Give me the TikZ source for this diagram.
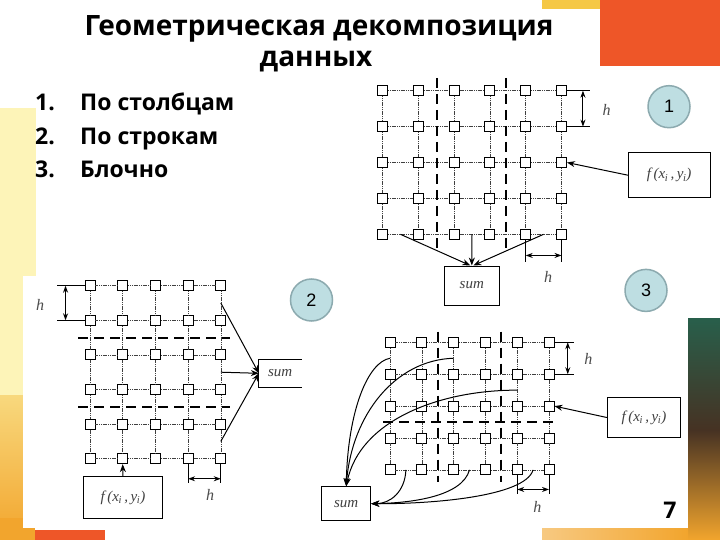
\documentclass[tikz,border=0pt]{standalone}
\usepackage{fontspec}
\setmainfont{Open Sans}
\newfontfamily\arialf{Liberation Sans}
\newfontfamily\timesf{Liberation Serif}
\usetikzlibrary{arrows.meta,calc}
\definecolor{slorange}{RGB}{238,86,40}
\definecolor{slyellow}{RGB}{245,200,70}
\definecolor{paley}{RGB}{253,244,184}
\definecolor{cfill}{RGB}{190,222,226}
\definecolor{cborder}{RGB}{140,170,175}
\definecolor{dgreen}{RGB}{40,95,75}
\definecolor{dbrown}{RGB}{70,50,35}
\definecolor{gold}{RGB}{242,165,45}
\newcommand\mkgrid[7]{%
  \foreach \c in {1,...,#2} \foreach \r in {1,...,#3}
    \node[sq] (#1-\c-\r) at ({#4+#5*(\c-1)},{#6+#7*(\r-1)}) {};}
\newcommand\mkgridlines[3]{%
  \foreach \c in {1,...,#2} \foreach \r in {1,...,#3} {%
    \pgfmathtruncatemacro\cn{\c+1}\pgfmathtruncatemacro\rn{\r+1}%
    \ifnum\c<#2 \draw[gl] (#1-\c-\r) -- (#1-\cn-\r);\fi
    \ifnum\r<#3 \draw[gl] (#1-\c-\r) -- (#1-\c-\rn);\fi}}
\newcommand\fxy{f\,(x\textsubscript{\kern-0.5pt i}\,,\,y\textsubscript{\kern-0.5pt i})}
\begin{document}
\begin{tikzpicture}[x=1pt,y=-1pt,
  sq/.style={draw, fill=white, minimum size=10pt, inner sep=0pt, line width=0.9pt},
  gl/.style={line width=0.6pt, black!75, dash pattern=on 1.2pt off 0.6pt},
  dl/.style={line width=1.8pt, dash pattern=on 10pt off 6pt},
  arr/.style={line width=1pt, -{Stealth[length=8pt,width=6pt]}},
  darr/.style={line width=1pt, {Stealth[length=7pt,width=5pt]}-{Stealth[length=7pt,width=5pt]}},
  thinl/.style={line width=0.8pt},
  lbox/.style={draw, line width=1pt, inner sep=0pt, font=\timesf\itshape\fontsize{15}{15}\selectfont, text=black!75},
  hl/.style={font=\timesf\itshape\fontsize{16}{16}\selectfont, text=black!70, inner sep=0pt},
  num/.style={circle, draw=cborder, fill=cfill, line width=1.5pt, minimum size=42pt, inner sep=0pt, font=\arialf\fontsize{18}{18}\selectfont},
  ttl/.style={anchor=base, font=\bfseries\fontsize{28}{28}\selectfont},
  itm/.style={anchor=base west, inner sep=0pt, font=\bfseries\fontsize{23}{23}\selectfont}]
\useasboundingbox (0,0) rectangle (720,540);
% background decorations
\fill[white] (0,0) rectangle (720,540);
\fill[slorange] (600,0) rectangle (720,66);
\fill[slyellow] (542,0) rectangle (600,9);
\fill[paley] (0,108) rectangle (36,400);
\shade[top color=slyellow!70!white, bottom color=gold] (0,395) rectangle (23,540);
\fill[gold] (0,518) rectangle (35,540);
\fill[slorange] (35,530) rectangle (105,540);
\fill[white] (23,276) rectangle (302,528);
\shade[top color=dgreen, bottom color=dbrown] (688,318) rectangle (720,430);
\shade[top color=dbrown, bottom color=gold] (688,430) rectangle (720,540);
\shade[left color=gold!60!white, right color=gold] (542,528) rectangle (688,540);
% title and list
\node[ttl] (title1) at (319,36) {Геометрическая декомпозиция};
\node[ttl] (title2) at (316,66.5) {данных};
\node[itm] (n1) at (35,111) {1.};
\node[itm] (i1) at (80,111) {По столбцам};
\node[itm] (n2) at (35,144.5) {2.};
\node[itm] (i2) at (80,144.5) {По строкам};
\node[itm] (n3) at (35,177.5) {3.};
\node[itm] (i3) at (80,177.5) {Блочно};
\node[font=\bfseries\fontsize{23}{23}\selectfont, inner sep=0pt] (pg) at (670,510) {7};
% ===== diagram 1 =====
\mkgrid{A}{6}{5}{382.5}{35.8}{90.7}{35.9}
\mkgridlines{A}{6}{5}
\draw[dl] (436.7,78) -- (436.7,248);
\draw[dl] (505.7,78) -- (505.7,248);
\draw[thinl] (A-6-1.east) -- ++(22.6,0) coordinate (hA1);
\draw[thinl] (A-6-2.east) -- ++(22.6,0) coordinate (hA2);
\draw[darr] ($(hA1)+(-6.6,0)$) -- ($(hA2)+(-6.6,0)$);
\node[hl] (hAl1) at (606.7,110) {h};
\draw[thinl] (A-5-5.south) -- ++(0,22.4) coordinate (hA3);
\draw[thinl] (A-6-5.south) -- ++(0,22.4) coordinate (hA4);
\draw[darr] ($(hA3)+(0,-6.7)$) -- ($(hA4)+(0,-6.7)$);
\node[hl] (hAl2) at (548,276.7) {h};
\node[lbox, minimum width=81.7pt, minimum height=45pt] (fA) at (669.2,175.2) {\fxy};
\draw[arr] (fA.west) -- (A-6-3.east);
\node[lbox, minimum width=55pt, minimum height=39pt] (sA) at (471.8,285.5) {sum};
\coordinate (a1) at ($(A-1-5)!0.5!(A-2-5)$);
\coordinate (a2) at ($(A-3-5)!0.5!(A-4-5)$);
\coordinate (a3) at ($(A-5-5)!0.5!(A-6-5)$);
\draw[arr] (a1) -- ($(sA.north)+(-1.5,0)$);
\draw[arr] (a2) -- (sA.north);
\draw[arr] (a3) -- ($(sA.north)+(1.5,0)$);
\node[num] (c1) at (669,106.7) {1};
% ===== diagram 2 =====
\mkgrid{B}{5}{6}{90}{32.7}{285.7}{34.6}
\mkgridlines{B}{5}{6}
\draw[dl] (78.3,338.2) -- (230,338.2);
\draw[dl] (78.3,406.8) -- (230,406.8);
\draw[thinl] (B-1-1.west) -- ++(-27.7,0) coordinate (hB1);
\draw[thinl] (B-1-2.west) -- ++(-27.7,0) coordinate (hB2);
\draw[darr] ($(hB1)+(8.7,0)$) -- ($(hB2)+(8.7,0)$);
\node[hl] (hBl1) at (40,305) {h};
\draw[thinl] (B-4-6.south) -- ++(0,19.3) coordinate (hB3);
\draw[thinl] (B-5-6.south) -- ++(0,19.3) coordinate (hB4);
\draw[darr] ($(hB3)+(0,-4.7)$) -- ($(hB4)+(0,-4.7)$);
\node[hl] (hBl2) at (210,495) {h};
\node[lbox, minimum width=79.4pt, minimum height=41.6pt] (fB) at (123,497.5) {\fxy};
\draw[arr] (fB.north) -- (B-2-6.south);
\node[lbox, draw=none, minimum width=41.7pt, minimum height=26.7pt] (sB) at (280.2,373.3) {sum};
\draw[line width=1pt] (sB.north east) -- (sB.north west) -- (sB.south west) -- (sB.south east);
\coordinate (b1) at ($(B-5-1)!0.5!(B-5-2)$);
\coordinate (b2) at ($(B-5-3)!0.5!(B-5-4)$);
\coordinate (b3) at ($(B-5-5)!0.5!(B-5-6)$);
\draw[arr] (b1) -- (sB.west);
\draw[arr] (b2) -- (sB.west);
\draw[arr] (b3) -- (sB.west);
\node[num] (c2) at (311.5,300) {2};
% ===== diagram 3 =====
\mkgrid{C}{6}{5}{390}{31.8}{342.3}{31.9}
\mkgridlines{C}{6}{5}
\draw[dl] (437.7,331.7) -- (437.7,482);
\draw[dl] (501.3,331.7) -- (501.3,482);
\draw[dl] (383.3,422) -- (559.3,422);
\draw[thinl] (C-6-1.east) -- ++(20,0) coordinate (hC1);
\draw[thinl] (C-6-2.east) -- ++(20,0) coordinate (hC2);
\draw[darr] ($(hC1)+(-6.7,0)$) -- ($(hC2)+(-6.7,0)$);
\node[hl] (hCl1) at (588.3,359.3) {h};
\draw[thinl] (C-5-5.south) -- ++(0,18.4) coordinate (hC3);
\draw[thinl] (C-6-5.south) -- ++(0,18.4) coordinate (hC4);
\draw[darr] ($(hC3)+(0,-4.3)$) -- ($(hC4)+(0,-4.3)$);
\node[hl] (hCl2) at (537.3,507.3) {h};
\node[lbox, minimum width=73.4pt, minimum height=40.4pt] (fC) at (644,417.5) {\fxy};
\draw[arr] (fC.west) -- (C-6-3.east);
\node[lbox, minimum width=49pt, minimum height=34pt] (sC) at (346.2,503.7) {sum};
\coordinate (k1) at ($(C-1-1)!0.5!(C-1-2)$);
\coordinate (k2) at ($(C-3-1)!0.5!(C-3-2)$);
\coordinate (k3) at ($(C-5-2)!0.5!(C-5-3)$);
\coordinate (k4) at ($(C-1-5)!0.5!(C-2-5)$);
\coordinate (k5) at ($(C-3-5)!0.5!(C-4-5)$);
\coordinate (k6) at ($(C-5-5)!0.5!(C-6-5)$);
\draw[arr] (k1) .. controls (368,362) and (348,410) .. (sC.north);
\draw[arr] (k2) .. controls (395,360) and (352,415) .. (sC.north);
\draw[arr] (k3) .. controls (440,390) and (360,420) .. (sC.north);
\draw[arr] (k4) .. controls (405,492) and (390,503.7) .. (sC.east);
\draw[arr] (k5) .. controls (462,497) and (410,503) .. (sC.east);
\draw[arr] (k6) .. controls (525,497) and (430,504) .. (sC.east);
\node[num] (c3) at (646,290.4) {3};
\end{tikzpicture}
\end{document}
